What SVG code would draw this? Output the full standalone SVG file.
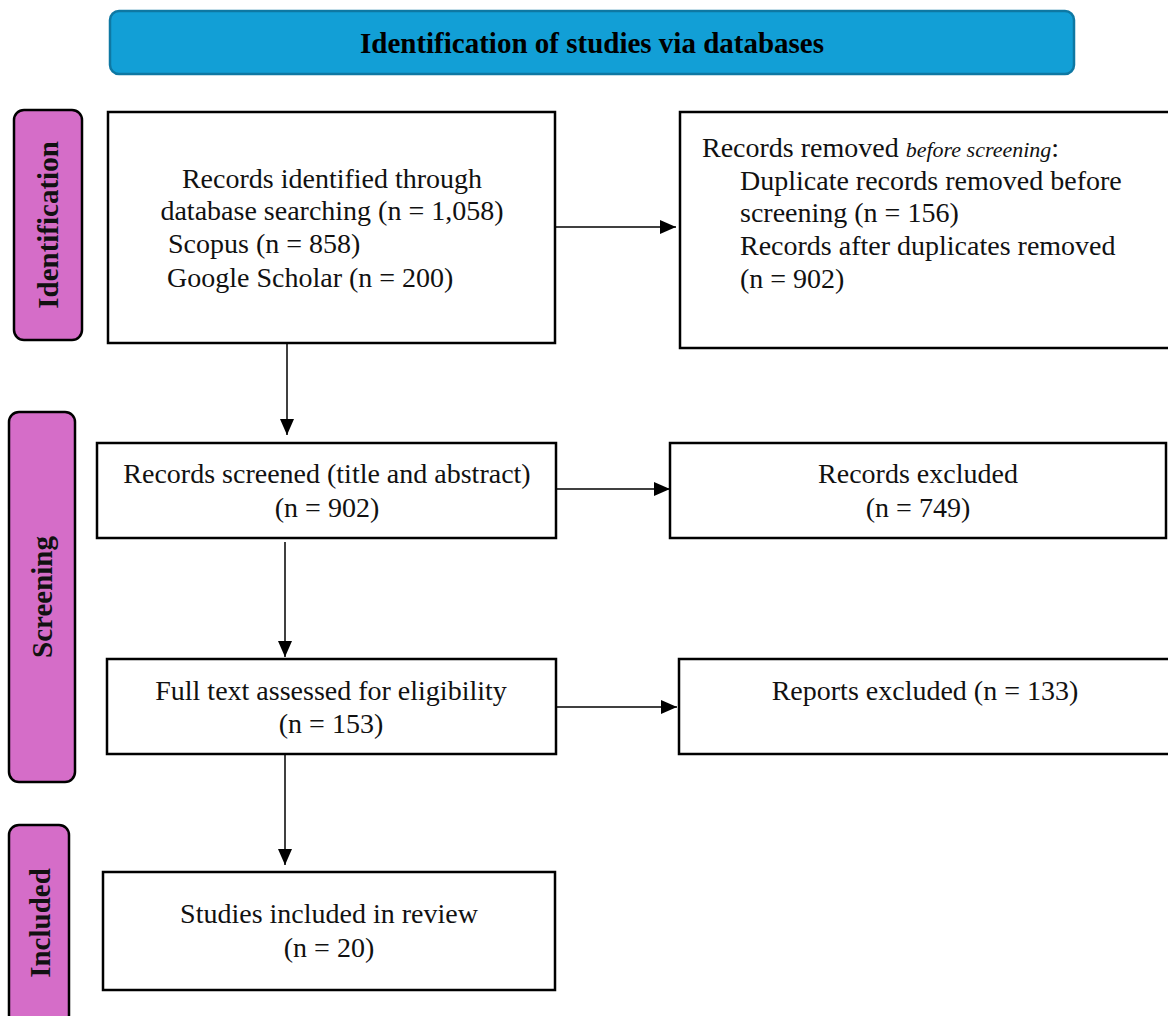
<svg xmlns="http://www.w3.org/2000/svg" width="1168" height="1016" viewBox="0 0 1168 1016">
<style>
.box{fill:#fff;stroke:#000;stroke-width:2.5}
.side{fill:#D56DC8;stroke:#000;stroke-width:2.5}
.t{font-family:"Liberation Serif","Times New Roman",serif;font-size:28px;fill:#111}
.c{text-anchor:middle}
.s{font-family:"Liberation Serif","Times New Roman",serif;font-size:29px;font-weight:bold;fill:#111;text-anchor:middle}
.h{font-family:"Liberation Serif","Times New Roman",serif;font-size:29px;font-weight:bold;fill:#000;text-anchor:middle}
.ln{stroke:#000;stroke-width:1.5;fill:none}
</style>
<defs>
<marker id="ah" markerWidth="16" markerHeight="14" refX="16" refY="7" orient="auto" markerUnits="userSpaceOnUse">
<path d="M0,0 L16,7 L0,14 Z" fill="#000"/>
</marker>
</defs>
<rect width="1168" height="1016" fill="#fff"/>
<g id="header">
<rect x="110" y="11" width="964" height="63" rx="9" fill="#129FD6" stroke="#0E78A3" stroke-width="2.5"/>
<text class="h" x="592" y="53">Identification of studies via databases</text>
</g>
<g id="side-identification">
<rect class="side" x="14" y="110" width="68" height="230" rx="10"/>
<text class="s" transform="translate(58,225) rotate(-90)">Identification</text>
</g>
<g id="side-screening">
<rect class="side" x="9" y="412" width="66" height="370" rx="10"/>
<text class="s" transform="translate(52,597) rotate(-90)">Screening</text>
</g>
<g id="side-included">
<rect class="side" x="9" y="825" width="60" height="200" rx="10"/>
<text class="s" transform="translate(50,923) rotate(-90)">Included</text>
</g>
<g id="n-identified">
<rect class="box" x="108" y="112" width="447" height="231"/>
<text class="t c" x="332" y="188">Records identified through</text>
<text class="t c" x="332" y="220">database searching (n = 1,058)</text>
<text class="t" x="168" y="253">Scopus (n = 858)</text>
<text class="t" x="167" y="287">Google Scholar (n = 200)</text>
</g>
<g id="n-removed">
<rect class="box" x="680" y="112" width="500" height="236"/>
<text class="t" x="702" y="157">Records removed <tspan font-style="italic" font-size="22">before screening</tspan>:</text>
<text class="t" x="740" y="190">Duplicate records removed before</text>
<text class="t" x="740" y="222">screening (n = 156)</text>
<text class="t" x="740" y="255">Records after duplicates removed</text>
<text class="t" x="740" y="288">(n = 902)</text>
</g>
<g id="n-screened">
<rect class="box" x="97" y="443" width="459" height="95"/>
<text class="t c" x="327" y="483">Records screened (title and abstract)</text>
<text class="t c" x="327" y="517">(n = 902)</text>
</g>
<g id="n-excluded">
<rect class="box" x="670" y="443" width="496" height="95"/>
<text class="t c" x="918" y="483">Records excluded</text>
<text class="t c" x="918" y="517">(n = 749)</text>
</g>
<g id="n-fulltext">
<rect class="box" x="107" y="659" width="449" height="95"/>
<text class="t c" x="331" y="700">Full text assessed for eligibility</text>
<text class="t c" x="331" y="733">(n = 153)</text>
</g>
<g id="n-reports">
<rect class="box" x="679" y="659" width="500" height="95"/>
<text class="t c" x="925" y="700">Reports excluded (n = 133)</text>
</g>
<g id="n-included">
<rect class="box" x="103" y="872" width="452" height="118"/>
<text class="t c" x="329" y="923">Studies included in review</text>
<text class="t c" x="329" y="957">(n = 20)</text>
</g>
<g id="connectors">
<line class="ln" x1="555" y1="227" x2="676" y2="227" marker-end="url(#ah)"/>
<line class="ln" x1="287" y1="343" x2="287" y2="435" marker-end="url(#ah)"/>
<line class="ln" x1="556" y1="489" x2="670" y2="489" marker-end="url(#ah)"/>
<line class="ln" x1="285" y1="542" x2="285" y2="657" marker-end="url(#ah)"/>
<line class="ln" x1="556" y1="707" x2="677" y2="707" marker-end="url(#ah)"/>
<line class="ln" x1="285" y1="754" x2="285" y2="865" marker-end="url(#ah)"/>
</g>
</svg>
